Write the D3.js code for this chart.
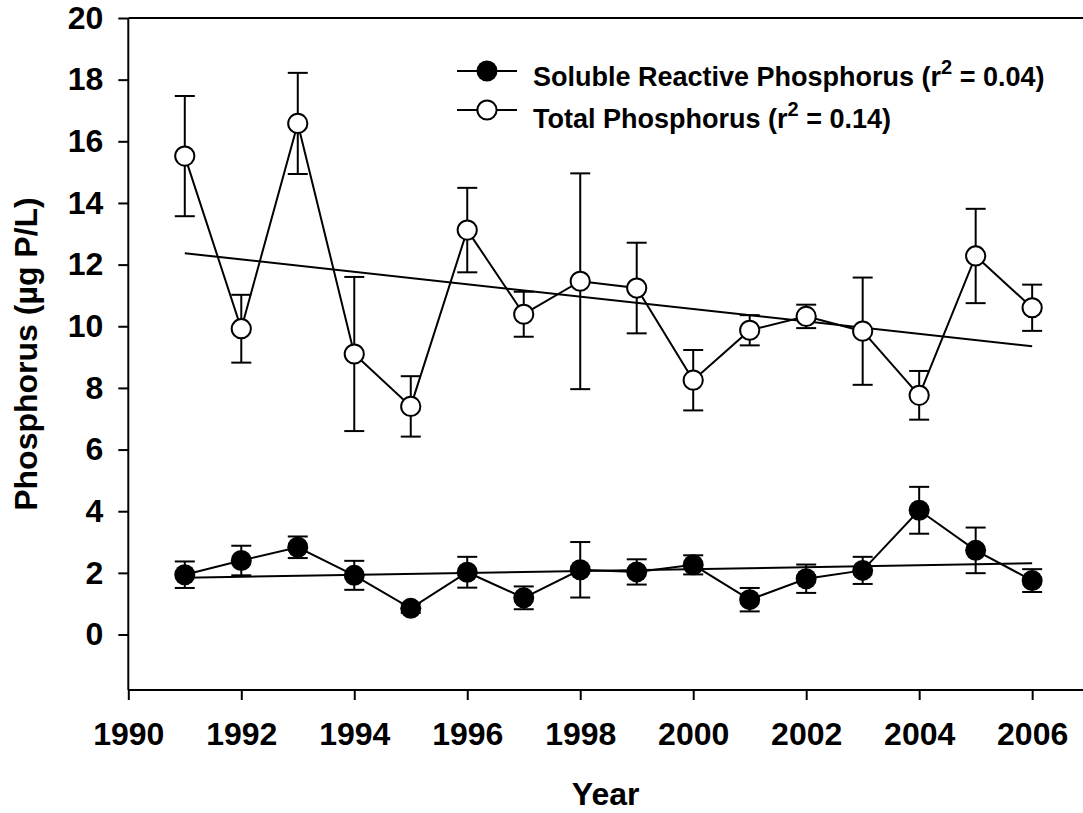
<!DOCTYPE html>
<html>
<head>
<meta charset="utf-8">
<script src="https://cdn.jsdelivr.net/npm/d3@7"></script>
<style>
  html, body { margin: 0; padding: 0; background: #fff; }
  svg { display: block; }
  text { font-family: "Liberation Sans", Arial, sans-serif; font-weight: bold; fill: #000; }
</style>
</head>
<body>
<svg id="chart" width="1083" height="813"></svg>
<script>
// ---- Data ----
const years = [1991, 1992, 1993, 1994, 1995, 1996, 1997, 1998, 1999, 2000, 2001, 2002, 2003, 2004, 2005, 2006];
const srpMean = [1.94, 2.40, 2.83, 1.92, 0.85, 2.02, 1.19, 2.10, 2.03, 2.26, 1.13, 1.81, 2.08, 4.03, 2.73, 1.75];
const srpErr  = [0.43, 0.48, 0.35, 0.47, 0.15, 0.50, 0.37, 0.90, 0.41, 0.31, 0.38, 0.46, 0.44, 0.76, 0.74, 0.37];
const tpMean  = [15.52, 9.92, 16.58, 9.10, 7.40, 13.12, 10.39, 11.46, 11.24, 8.25, 9.87, 10.32, 9.84, 7.76, 12.28, 10.60];
const tpErr   = [1.95, 1.10, 1.64, 2.50, 0.98, 1.37, 0.73, 3.50, 1.47, 0.98, 0.49, 0.38, 1.74, 0.79, 1.53, 0.75];
const srpTrend = [[1991, 1.84], [2006, 2.31]];
const tpTrend  = [[1991, 12.37], [2006, 9.35]];
const xTicks = [1990, 1992, 1994, 1996, 1998, 2000, 2002, 2004, 2006];
const yTicks = [0, 2, 4, 6, 8, 10, 12, 14, 16, 18, 20];
const legendLabels = [
  {name: "Soluble Reactive Phosphorus (r", sup: "2", rest: " = 0.04)", filled: true},
  {name: "Total Phosphorus (r", sup: "2", rest: " = 0.14)", filled: false}
];

// ---- Layout ----
const svg = d3.select("#chart");
const mLeft = 128.3, mRight = 1083, mTop = 18, mBottom = 690;
const x = d3.scaleLinear().domain([1990, 2006.9]).range([mLeft, mRight]);
const y = d3.scaleLinear().domain([-1.8, 20]).range([mBottom, mTop]);

const fontSize = 32;

// Axes
const xAxis = d3.axisBottom(x).tickValues(xTicks).tickSize(10).tickPadding(22).tickFormat(d3.format("d"));
const yAxis = d3.axisLeft(y).tickValues(yTicks).tickSize(10).tickPadding(15).tickFormat(d3.format("d"));

const gx = svg.append("g").attr("transform", `translate(0,${mBottom})`).call(xAxis);
const gy = svg.append("g").attr("transform", `translate(${mLeft},0)`).call(yAxis);
[gx, gy].forEach(g => {
  g.select(".domain").remove();
  g.selectAll(".tick line").attr("stroke", "#000").attr("stroke-width", 2);
  g.selectAll(".tick text").style("font-size", fontSize + "px").attr("fill", "#000");
});
// axis lines
svg.append("line").attr("x1", mLeft).attr("x2", mRight).attr("y1", mBottom).attr("y2", mBottom)
  .attr("stroke", "#000").attr("stroke-width", 2);
svg.append("line").attr("x1", mLeft).attr("x2", mLeft).attr("y1", mTop).attr("y2", mBottom)
  .attr("stroke", "#000").attr("stroke-width", 2);
svg.append("line").attr("x1", mLeft).attr("x2", mRight).attr("y1", mTop).attr("y2", mTop)
  .attr("stroke", "#000").attr("stroke-width", 2);

// Titles
svg.append("text").attr("x", (mLeft + mRight) / 2).attr("y", 805).attr("text-anchor", "middle")
  .style("font-size", fontSize + "px").text("Year");
svg.append("text").attr("transform", `translate(37,${(mTop + mBottom) / 2}) rotate(-90)`)
  .attr("text-anchor", "middle").style("font-size", fontSize + "px").text("Phosphorus (µg P/L)");

const plot = svg.append("g");
const lineGen = d3.line().x(d => x(d[0])).y(d => y(d[1]));

// Trend lines
[srpTrend, tpTrend].forEach(t => {
  plot.append("path").attr("d", lineGen(t)).attr("fill", "none").attr("stroke", "#000").attr("stroke-width", 2);
});

function drawSeries(mean, err, filled) {
  const pts = years.map((yr, i) => [yr, mean[i], err[i]]);
  const eb = plot.append("g");
  pts.forEach(p => {
    const cx = x(p[0]);
    const y1 = y(p[1] + p[2]), y2 = y(p[1] - p[2]);
    eb.append("line").attr("x1", cx).attr("x2", cx).attr("y1", y1).attr("y2", y2).attr("stroke", "#000").attr("stroke-width", 2);
    eb.append("line").attr("x1", cx - 10).attr("x2", cx + 10).attr("y1", y1).attr("y2", y1).attr("stroke", "#000").attr("stroke-width", 2);
    eb.append("line").attr("x1", cx - 10).attr("x2", cx + 10).attr("y1", y2).attr("y2", y2).attr("stroke", "#000").attr("stroke-width", 2);
  });
  plot.append("path").attr("d", lineGen(pts)).attr("fill", "none").attr("stroke", "#000").attr("stroke-width", 2);
  plot.append("g").selectAll("circle").data(pts).join("circle")
    .attr("cx", d => x(d[0])).attr("cy", d => y(d[1]))
    .attr("r", filled ? 10.5 : 9.6)
    .attr("fill", filled ? "#000" : "#fff")
    .attr("stroke", "#000").attr("stroke-width", filled ? 0 : 2);
}
drawSeries(tpMean, tpErr, false);
drawSeries(srpMean, srpErr, true);

// Legend
const legRows = [{my: 71, ty: 86}, {my: 110, ty: 128}];
legendLabels.forEach((l, i) => {
  const r = legRows[i];
  svg.append("line").attr("x1", 457).attr("x2", 517).attr("y1", r.my).attr("y2", r.my).attr("stroke", "#000").attr("stroke-width", 2);
  svg.append("circle").attr("cx", 487).attr("cy", r.my).attr("r", l.filled ? 10.5 : 9.6)
    .attr("fill", l.filled ? "#000" : "#fff").attr("stroke", "#000").attr("stroke-width", l.filled ? 0 : 2);
  const t = svg.append("text").attr("x", 533).attr("y", r.ty).style("font-size", "27px");
  t.append("tspan").text(l.name);
  t.append("tspan").attr("dy", -12).style("font-size", "20px").text(l.sup);
  t.append("tspan").attr("dy", 12).text(l.rest);
});
</script>
</body>
</html>
